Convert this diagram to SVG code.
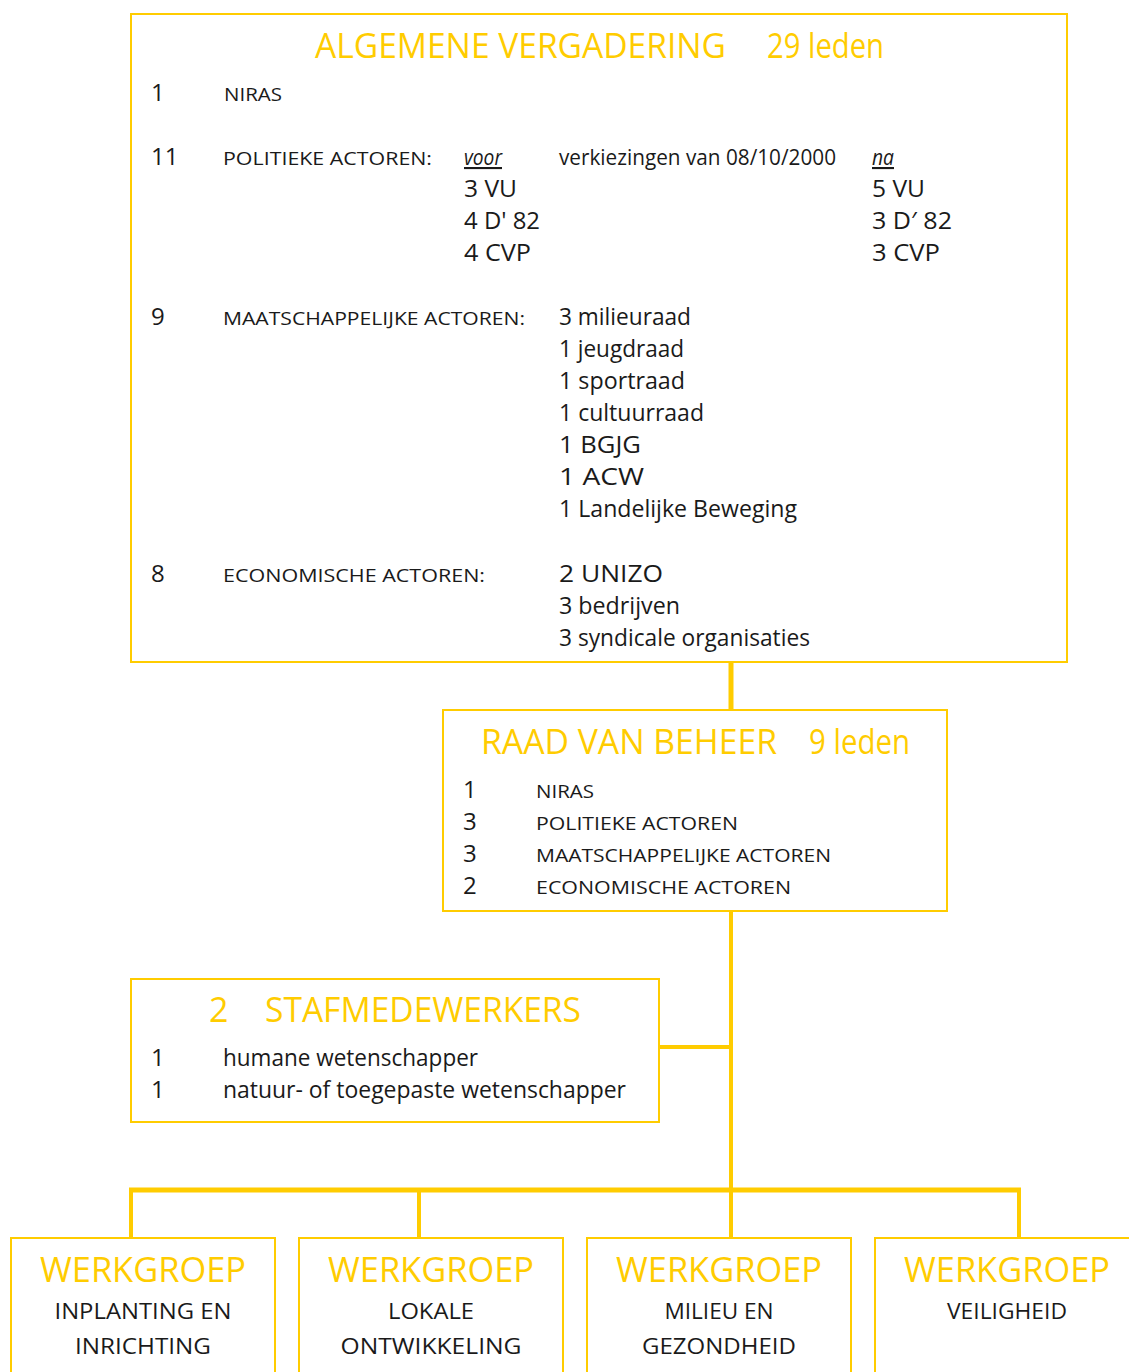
<svg xmlns="http://www.w3.org/2000/svg" width="1129" height="1372" viewBox="0 0 1129 1372">
<style>
.box{fill:#fff;stroke:#FFCC00;stroke-width:2}
.con{stroke:#FFCC00;fill:none}
text{font-family:"Open Sans","Liberation Sans",sans-serif;fill:#1a1a1a}
.t{fill:#FFCC00;font-size:34px}
.n{font-size:24px}
.s{font-size:19px}
.b{font-size:24px}
.w{fill:#FFCC00;font-size:34px;text-anchor:middle}
.c{font-size:22px;text-anchor:middle}
</style>
<rect width="1129" height="1372" fill="#fff"/>
<g id="connectors">
<line class="con" x1="731" y1="662" x2="731" y2="710" stroke-width="5"/>
<line class="con" x1="731" y1="911" x2="731" y2="1190" stroke-width="4"/>
<line class="con" x1="659" y1="1047" x2="731" y2="1047" stroke-width="4"/>
<line class="con" x1="129" y1="1190" x2="1021" y2="1190" stroke-width="5"/>
<line class="con" x1="131" y1="1190" x2="131" y2="1238" stroke-width="4"/>
<line class="con" x1="419" y1="1190" x2="419" y2="1238" stroke-width="4"/>
<line class="con" x1="731" y1="1190" x2="731" y2="1238" stroke-width="4"/>
<line class="con" x1="1019" y1="1190" x2="1019" y2="1238" stroke-width="4"/>
</g>
<g id="algemene-vergadering">
<rect class="box" x="131" y="14" width="936" height="648"/>
<text class="t" x="315" y="58" textLength="411" lengthAdjust="spacingAndGlyphs">ALGEMENE VERGADERING</text>
<text class="t" x="767" y="58" textLength="117" lengthAdjust="spacingAndGlyphs">29 leden</text>
<text class="n" x="151" y="101">1</text>
<text class="s" x="224" y="101" textLength="58" lengthAdjust="spacingAndGlyphs">NIRAS</text>
<text class="n" x="151" y="165">11</text>
<text class="s" x="223" y="165" textLength="209" lengthAdjust="spacingAndGlyphs">POLITIEKE ACTOREN:</text>
<text class="b" x="464" y="165" font-style="italic" text-decoration="underline" textLength="38" lengthAdjust="spacingAndGlyphs" style="font-size:21px">voor</text>
<text class="b" x="559" y="165" textLength="277" lengthAdjust="spacingAndGlyphs" style="font-size:21px">verkiezingen van 08/10/2000</text>
<text class="b" x="872" y="165" font-style="italic" text-decoration="underline" textLength="22" lengthAdjust="spacingAndGlyphs" style="font-size:21px">na</text>
<text class="b" x="464" y="197" textLength="53" lengthAdjust="spacingAndGlyphs">3 VU</text>
<text class="b" x="464" y="229" textLength="76" lengthAdjust="spacingAndGlyphs">4 D' 82</text>
<text class="b" x="464" y="261" textLength="67" lengthAdjust="spacingAndGlyphs">4 CVP</text>
<text class="b" x="872" y="197" textLength="53" lengthAdjust="spacingAndGlyphs">5 VU</text>
<text class="b" x="872" y="229" textLength="80" lengthAdjust="spacingAndGlyphs">3 D′ 82</text>
<text class="b" x="872" y="261" textLength="68" lengthAdjust="spacingAndGlyphs">3 CVP</text>
<text class="n" x="151" y="325">9</text>
<text class="s" x="223" y="325" textLength="302" lengthAdjust="spacingAndGlyphs">MAATSCHAPPELIJKE ACTOREN:</text>
<text class="b" x="559" y="325" textLength="132" lengthAdjust="spacingAndGlyphs">3 milieuraad</text>
<text class="b" x="559" y="357" textLength="125" lengthAdjust="spacingAndGlyphs">1 jeugdraad</text>
<text class="b" x="559" y="389" textLength="126" lengthAdjust="spacingAndGlyphs">1 sportraad</text>
<text class="b" x="559" y="421" textLength="145" lengthAdjust="spacingAndGlyphs">1 cultuurraad</text>
<text class="b" x="559" y="453" textLength="82" lengthAdjust="spacingAndGlyphs">1 BGJG</text>
<text class="b" x="559" y="485" textLength="85" lengthAdjust="spacingAndGlyphs">1 ACW</text>
<text class="b" x="559" y="517" textLength="238" lengthAdjust="spacingAndGlyphs">1 Landelijke Beweging</text>
<text class="n" x="151" y="582">8</text>
<text class="s" x="223" y="582" textLength="262" lengthAdjust="spacingAndGlyphs">ECONOMISCHE ACTOREN:</text>
<text class="b" x="559" y="582" textLength="104" lengthAdjust="spacingAndGlyphs">2 UNIZO</text>
<text class="b" x="559" y="614" textLength="121" lengthAdjust="spacingAndGlyphs">3 bedrijven</text>
<text class="b" x="559" y="646" textLength="251" lengthAdjust="spacingAndGlyphs">3 syndicale organisaties</text>
</g>
<g id="raad-van-beheer">
<rect class="box" x="443" y="710" width="504" height="201"/>
<text class="t" x="481" y="754" textLength="296" lengthAdjust="spacingAndGlyphs">RAAD VAN BEHEER</text>
<text class="t" x="809" y="754" textLength="101" lengthAdjust="spacingAndGlyphs">9 leden</text>
<text class="n" x="463" y="798">1</text>
<text class="s" x="536" y="798" textLength="58" lengthAdjust="spacingAndGlyphs">NIRAS</text>
<text class="n" x="463" y="830">3</text>
<text class="s" x="536" y="830" textLength="202" lengthAdjust="spacingAndGlyphs">POLITIEKE ACTOREN</text>
<text class="n" x="463" y="862">3</text>
<text class="s" x="536" y="862" textLength="295" lengthAdjust="spacingAndGlyphs">MAATSCHAPPELIJKE ACTOREN</text>
<text class="n" x="463" y="894">2</text>
<text class="s" x="536" y="894" textLength="255" lengthAdjust="spacingAndGlyphs">ECONOMISCHE ACTOREN</text>
</g>
<g id="stafmedewerkers">
<rect class="box" x="131" y="979" width="528" height="143"/>
<text class="t" x="209" y="1022">2</text>
<text class="t" x="265" y="1022" textLength="316" lengthAdjust="spacingAndGlyphs">STAFMEDEWERKERS</text>
<text class="n" x="151" y="1066">1</text>
<text class="b" x="223" y="1066" textLength="255" lengthAdjust="spacingAndGlyphs">humane wetenschapper</text>
<text class="n" x="151" y="1098">1</text>
<text class="b" x="223" y="1098" textLength="403" lengthAdjust="spacingAndGlyphs">natuur- of toegepaste wetenschapper</text>
</g>
<g id="werkgroep-inplanting">
<rect class="box" x="11" y="1238" width="264" height="140"/>
<text class="w" x="143" y="1282" textLength="206" lengthAdjust="spacingAndGlyphs">WERKGROEP</text>
<text class="c" x="143" y="1319" textLength="177" lengthAdjust="spacingAndGlyphs">INPLANTING EN</text>
<text class="c" x="143" y="1354" textLength="136" lengthAdjust="spacingAndGlyphs">INRICHTING</text>
</g>
<g id="werkgroep-lokale">
<rect class="box" x="299" y="1238" width="264" height="140"/>
<text class="w" x="431" y="1282" textLength="206" lengthAdjust="spacingAndGlyphs">WERKGROEP</text>
<text class="c" x="431" y="1319" textLength="86" lengthAdjust="spacingAndGlyphs">LOKALE</text>
<text class="c" x="431" y="1354" textLength="181" lengthAdjust="spacingAndGlyphs">ONTWIKKELING</text>
</g>
<g id="werkgroep-milieu">
<rect class="box" x="587" y="1238" width="264" height="140"/>
<text class="w" x="719" y="1282" textLength="206" lengthAdjust="spacingAndGlyphs">WERKGROEP</text>
<text class="c" x="719" y="1319" textLength="109" lengthAdjust="spacingAndGlyphs">MILIEU EN</text>
<text class="c" x="719" y="1354" textLength="154" lengthAdjust="spacingAndGlyphs">GEZONDHEID</text>
</g>
<g id="werkgroep-veiligheid">
<rect class="box" x="875" y="1238" width="264" height="140"/>
<text class="w" x="1007" y="1282" textLength="206" lengthAdjust="spacingAndGlyphs">WERKGROEP</text>
<text class="c" x="1007" y="1319" textLength="120" lengthAdjust="spacingAndGlyphs">VEILIGHEID</text>
</g>
</svg>
